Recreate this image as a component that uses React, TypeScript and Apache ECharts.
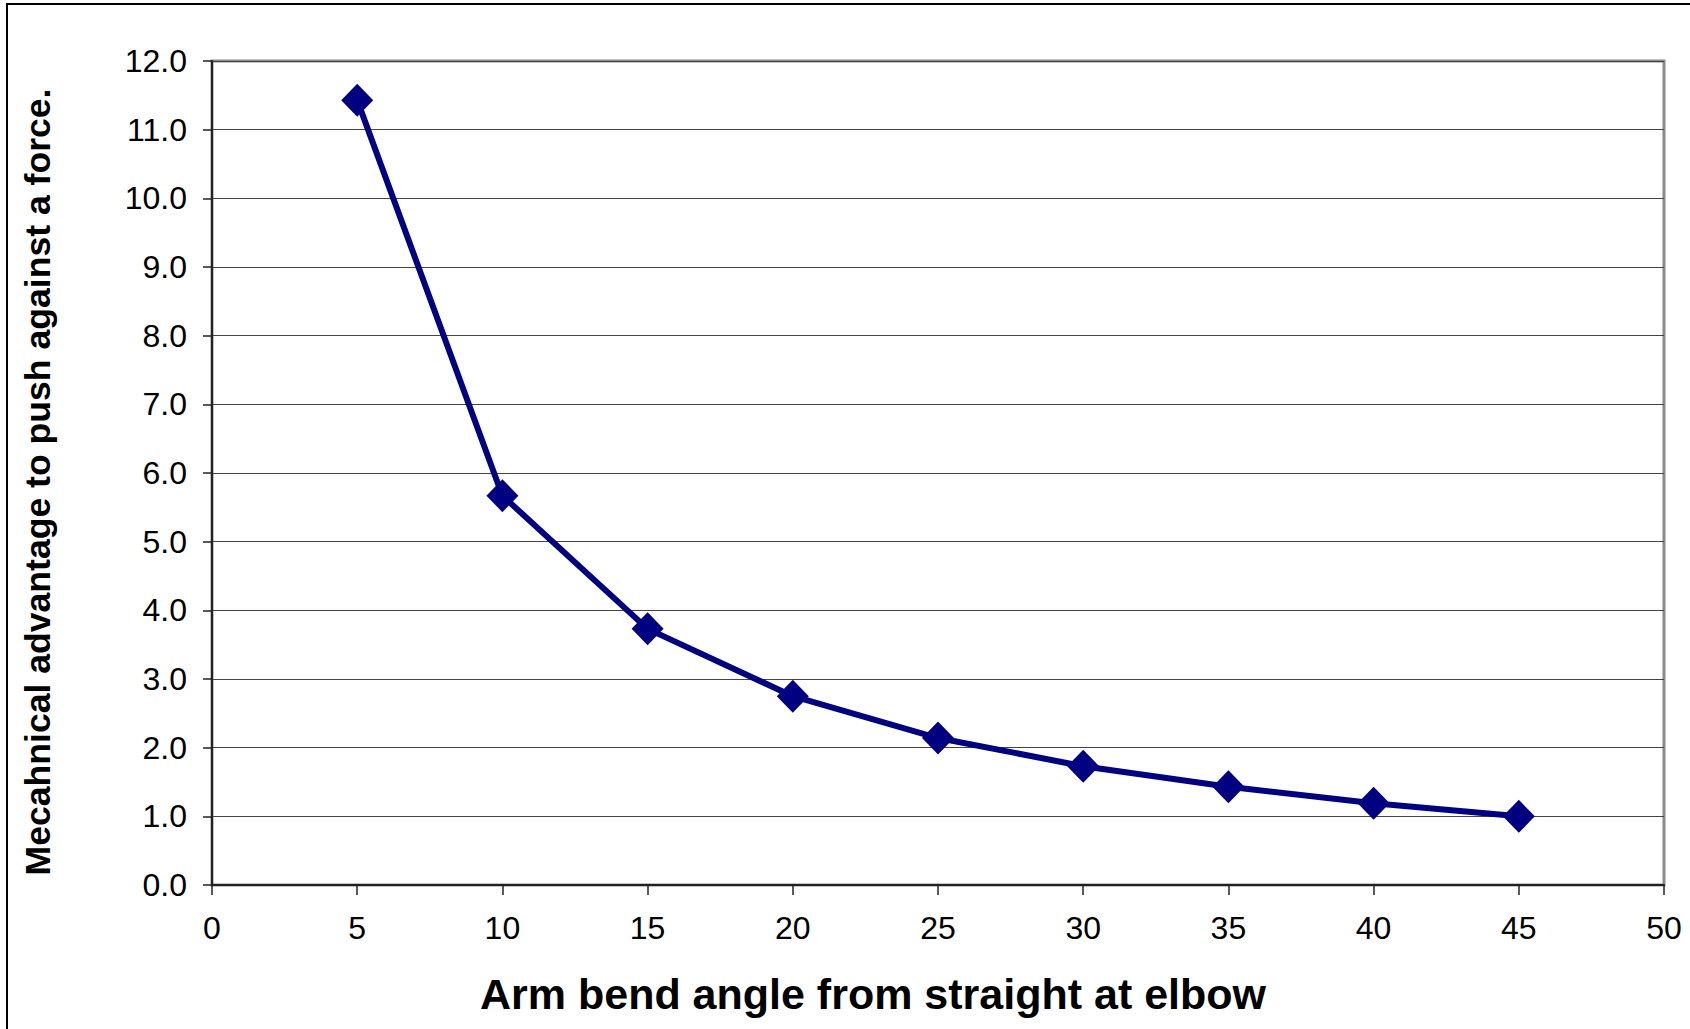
import React, { useEffect, useRef } from "react";
import * as echarts from "echarts";

const angles = [5, 10, 15, 20, 25, 30, 35, 40, 45];
const advantage = [11.43, 5.67, 3.73, 2.75, 2.14, 1.73, 1.43, 1.19, 1.0];
const xTitle = "Arm bend angle from straight at elbow";
const yTitle = "Mecahnical advantage to push against a force.";

export default function App() {
  const ref = useRef<HTMLDivElement>(null);
  useEffect(() => {
    if (!ref.current) return;
    const chart = echarts.init(ref.current, undefined, { renderer: "svg" });
    const font = "'Liberation Sans', Arial, sans-serif";
    chart.setOption({
      animation: false,
      backgroundColor: "#ffffff",
      grid: {
        left: 212,
        top: 61,
        right: 26,
        bottom: 144,
        show: true,
        borderColor: "#8a8a8a",
        borderWidth: 3,
        backgroundColor: "transparent",
      },
      xAxis: {
        type: "value",
        min: 0,
        max: 50,
        interval: 5,
        axisLine: { show: true, onZero: false, lineStyle: { color: "#222", width: 2 } },
        axisTick: { show: true, inside: false, length: 10, lineStyle: { color: "#222", width: 1.5 } },
        axisLabel: { color: "#000", fontSize: 32, fontFamily: font, margin: 27 },
        splitLine: { show: false },
      },
      yAxis: {
        type: "value",
        min: 0,
        max: 12,
        interval: 1,
        axisLine: { show: true, lineStyle: { color: "#222", width: 2 } },
        axisTick: { show: true, inside: false, length: 9, lineStyle: { color: "#222", width: 1.5 } },
        axisLabel: {
          color: "#000",
          fontSize: 32,
          fontFamily: font,
          margin: 25,
          formatter: (v: number) => v.toFixed(1),
        },
        splitLine: { show: true, lineStyle: { color: "#444", width: 1.2 } },
      },
      series: [
        {
          type: "line",
          data: angles.map((a, i) => [a, advantage[i]]),
          symbol: "diamond",
          symbolSize: [32, 33],
          lineStyle: { color: "#000080", width: 6 },
          itemStyle: { color: "#000080" },
          z: 5,
        },
      ],
      graphic: [
        {
          type: "rect",
          shape: { x: 7, y: 4, width: 1720, height: 1100 },
          style: { fill: "none", stroke: "#000", lineWidth: 2 },
          silent: true,
        },
        {
          type: "text",
          x: 873,
          y: 994,
          style: {
            text: xTitle,
            font: `bold 43px ${font}`,
            fill: "#000",
            textAlign: "center",
            textVerticalAlign: "middle",
          },
        },
        {
          type: "text",
          x: 38,
          y: 482,
          rotation: Math.PI / 2,
          style: {
            text: yTitle,
            font: `bold 35.6px ${font}`,
            fill: "#000",
            textAlign: "center",
            textVerticalAlign: "middle",
          },
        },
      ],
    });
    return () => chart.dispose();
  }, []);
  return (
    <div
      ref={ref}
      style={{ position: "fixed", left: 0, top: 0, width: "1690px", height: "1029px", background: "#fff" }}
    />
  );
}
